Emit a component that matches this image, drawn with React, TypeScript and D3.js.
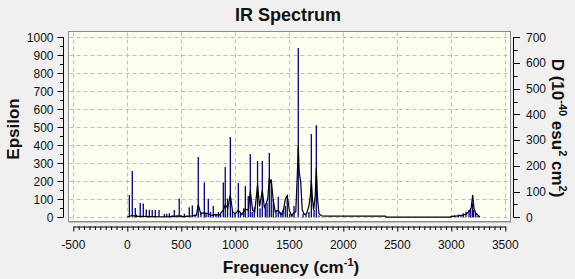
import { useEffect, useRef } from 'react';
import * as d3 from 'd3';

// Stick spectrum: frequency (cm-1) and intensity (epsilon units)
const stickFreq = [
  19, 46, 74, 85, 120, 148, 176, 204, 231, 259, 294, 343, 365, 389, 414, 435, 460, 481, 497, 528,
  553, 574, 602, 627, 657, 682, 713, 729, 750, 770, 796, 821, 843, 863, 889, 907, 928, 954, 974, 997,
  1028, 1048, 1078, 1093, 1120, 1139, 1157, 1176, 1206, 1229, 1250, 1278, 1294, 1315, 1333, 1352, 1377, 1398, 1423, 1441,
  1463, 1481, 1504, 1525, 1544, 1583, 1627, 1655, 1682, 1704, 1729, 1750, 1775,
  3006, 3031, 3065, 3090, 3111, 3136, 3164, 3180, 3198, 3207, 3226, 3247,
];
const stickEps = [
  124, 257, 52, 15, 79, 76, 44, 40, 40, 40, 40, 18, 20, 23, 12, 40, 10, 105, 12, 20,
  10, 56, 66, 15, 335, 30, 193, 25, 103, 30, 63, 20, 30, 20, 193, 280, 105, 446, 40, 25,
  190, 30, 50, 174, 118, 352, 30, 56, 313, 50, 313, 56, 80, 359, 198, 100, 40, 114, 30, 40,
  63, 118, 20, 15, 63, 940, 20, 15, 30, 463, 40, 511, 10,
  6, 10, 15, 12, 22, 31, 40, 50, 78, 40, 22, 8,
];

// Broadened spectrum (epsilon)
const curveFreq = [
  0, 20, 46, 80, 120, 150, 200, 300, 400, 480, 520, 570, 600, 640, 657, 680, 713, 750, 780, 800,
  850, 889, 907, 930, 954, 975, 1000, 1028, 1060, 1093, 1120, 1139, 1160, 1180, 1206, 1225, 1250, 1270, 1300, 1315,
  1325, 1333, 1350, 1370, 1398, 1420, 1440, 1463, 1481, 1500, 1520, 1544, 1560, 1575, 1583, 1592, 1605, 1620, 1640, 1660,
  1680, 1695, 1704, 1715, 1725, 1740, 1750, 1762, 1775, 1800, 1850, 2000, 2389, 2400, 2990, 3000, 3060, 3110, 3140, 3170,
  3185, 3198, 3210, 3225, 3250, 3266,
];
const curveEps = [
  2, 6, 10, 5, 5, 5, 4, 3, 4, 8, 4, 6, 8, 12, 70, 20, 25, 20, 10, 15,
  12, 40, 70, 50, 124, 30, 20, 40, 15, 45, 40, 146, 40, 30, 180, 60, 150, 50, 100, 218,
  190, 210, 100, 30, 40, 15, 20, 100, 120, 40, 10, 25, 30, 250, 400, 250, 200, 40, 15, 20,
  60, 120, 207, 100, 40, 120, 272, 100, 20, 8, 6, 6, 6, 1, 1, 5, 8, 12, 20, 35,
  55, 124, 50, 25, 10, 2,
];

const xTicks = [-500, 0, 500, 1000, 1500, 2000, 2500, 3000, 3500];
const epsTicks = [0, 100, 200, 300, 400, 500, 600, 700, 800, 900, 1000];
const dTicks = [0, 100, 200, 300, 400, 500, 600, 700];

export default function App() {
  const svgRef = useRef<SVGSVGElement>(null);
  const width = 575;
  const height = 279;

  useEffect(() => {
    if (!svgRef.current) return;
    document.body.style.margin = '0';
    const svg = d3.select(svgRef.current);
    svg.selectAll('*').remove();

    const font = 'Arial, "Liberation Sans", sans-serif';
    const plot = { left: 68.5, top: 31.5, right: 510.5, bottom: 221.5 };

    const x = d3.scaleLinear().domain([-500, 3500]).range([73.3, 505.3]);
    const yEps = d3.scaleLinear().domain([0, 1000]).range([217.3, 37.3]);
    const yD = d3.scaleLinear().domain([0, 700]).range([217.3, 37.3]);

    svg.append('rect').attr('width', width).attr('height', height).attr('fill', '#f0f0f0');

    // plot area
    svg.append('rect')
      .attr('x', plot.left).attr('y', plot.top)
      .attr('width', plot.right - plot.left).attr('height', plot.bottom - plot.top)
      .attr('fill', '#fffff2')
      .attr('stroke', '#8a8a8a');
    svg.append('line')
      .attr('x1', plot.left).attr('x2', plot.right + 1)
      .attr('y1', plot.bottom + 1).attr('y2', plot.bottom + 1)
      .attr('stroke', '#c4c4c4');

    // grid
    const grid = svg.append('g')
      .attr('stroke', '#bdbdbd')
      .attr('stroke-dasharray', '4,3');
    grid.selectAll('.hg').data(epsTicks).enter().append('line')
      .attr('x1', plot.left + 1).attr('x2', plot.right - 1)
      .attr('y1', d => Math.round(yEps(d)) + 0.5).attr('y2', d => Math.round(yEps(d)) + 0.5);
    grid.selectAll('.vg').data(xTicks).enter().append('line')
      .attr('y1', plot.top + 1).attr('y2', plot.bottom - 1)
      .attr('x1', d => Math.round(x(d)) + 0.5).attr('x2', d => Math.round(x(d)) + 0.5);

    // sticks
    const sticks = stickFreq.map((f, i) => ({ f, e: stickEps[i] }));
    svg.append('g').selectAll('line').data(sticks).enter().append('line')
      .attr('x1', d => x(d.f)).attr('x2', d => x(d.f))
      .attr('y1', yEps(0)).attr('y2', d => yEps(d.e))
      .attr('stroke', '#00008e')
      .attr('stroke-width', 1.3);

    // broadened curve
    const pts = curveFreq.map((f, i) => [f, curveEps[i]] as [number, number]);
    const line = d3.line<[number, number]>().x(d => x(d[0])).y(d => yEps(d[1]));
    svg.append('path')
      .datum(pts)
      .attr('fill', 'none')
      .attr('stroke', '#000')
      .attr('stroke-width', 1.2)
      .attr('d', line);

    // bottom axis
    const xAxis = d3.axisBottom(x)
      .tickValues(d3.range(-500, 3501, 50))
      .tickSize(0)
      .tickFormat(() => '');
    const gx = svg.append('g').attr('transform', 'translate(0,226.5)').call(xAxis);
    gx.select('.domain').attr('stroke', '#000');
    gx.selectAll('.tick line').remove();
    gx.selectAll('.tick').append('line')
      .attr('y2', (d: any) => (d % 500 === 0 ? 5 : 3.5))
      .attr('stroke', '#000');
    svg.append('g').selectAll('text').data(xTicks).enter().append('text')
      .attr('x', d => x(d)).attr('y', 248.5)
      .attr('text-anchor', 'middle')
      .style('font-family', font).style('font-size', '12px').attr('fill', '#111')
      .text(d => String(d));

    // left axis
    const gl = svg.append('g').attr('transform', 'translate(63.5,0)');
    gl.append('line').attr('y1', yEps(0)).attr('y2', yEps(1000)).attr('stroke', '#000');
    gl.selectAll('.tk').data(d3.range(0, 1001, 50)).enter().append('line')
      .attr('x1', d => (d % 100 === 0 ? -6 : -3.5)).attr('x2', 0)
      .attr('y1', d => Math.round(yEps(d)) + 0.5).attr('y2', d => Math.round(yEps(d)) + 0.5)
      .attr('stroke', '#000');
    gl.selectAll('text').data(epsTicks).enter().append('text')
      .attr('x', -10).attr('y', d => yEps(d)).attr('dy', '0.35em')
      .attr('text-anchor', 'end')
      .style('font-family', font).style('font-size', '12px').attr('fill', '#111')
      .text(d => String(d));

    // right axis
    const gr = svg.append('g').attr('transform', 'translate(513.5,0)');
    gr.append('line').attr('y1', yD(0)).attr('y2', yD(700)).attr('stroke', '#000');
    gr.selectAll('.tk').data(d3.range(0, 701, 50)).enter().append('line')
      .attr('x1', 0).attr('x2', d => (d % 100 === 0 ? 6.5 : 4))
      .attr('y1', d => Math.round(yD(d)) + 0.5).attr('y2', d => Math.round(yD(d)) + 0.5)
      .attr('stroke', '#000');
    gr.selectAll('text').data(dTicks).enter().append('text')
      .attr('x', 12.5).attr('y', d => yD(d)).attr('dy', '0.35em')
      .style('font-family', font).style('font-size', '12px').attr('fill', '#111')
      .text(d => String(d));

    // titles
    svg.append('text')
      .attr('x', 288).attr('y', 21)
      .attr('text-anchor', 'middle')
      .style('font-family', font).style('font-size', '18px').style('font-weight', 'bold')
      .attr('fill', '#111')
      .text('IR Spectrum');

    svg.append('text')
      .attr('transform', 'translate(19,129) rotate(-90)')
      .attr('text-anchor', 'middle')
      .style('font-family', font).style('font-size', '17px').style('font-weight', 'bold')
      .attr('fill', '#111')
      .text('Epsilon');

    const xl = svg.append('text')
      .attr('x', 291).attr('y', 272.5)
      .attr('text-anchor', 'middle')
      .style('font-family', font).style('font-size', '17px').style('font-weight', 'bold')
      .attr('fill', '#111');
    xl.append('tspan').text('Frequency (cm');
    xl.append('tspan').attr('dy', -7).style('font-size', '11px').text('-1');
    xl.append('tspan').attr('dy', 7).text(')');

    const rl = svg.append('text')
      .attr('transform', 'translate(552,128) rotate(90)')
      .attr('text-anchor', 'middle')
      .style('font-family', font).style('font-size', '17px').style('font-weight', 'bold')
      .attr('fill', '#111');
    rl.append('tspan').text('D (10');
    rl.append('tspan').attr('dy', -7).style('font-size', '11px').text('-40');
    rl.append('tspan').attr('dy', 7).text(' esu');
    rl.append('tspan').attr('dy', -7).style('font-size', '11px').text('2');
    rl.append('tspan').attr('dy', 7).text(' cm');
    rl.append('tspan').attr('dy', -7).style('font-size', '11px').text('2');
    rl.append('tspan').attr('dy', 7).text(')');
  }, []);

  return <svg ref={svgRef} width={width} height={height} style={{ display: 'block' }} />;
}
